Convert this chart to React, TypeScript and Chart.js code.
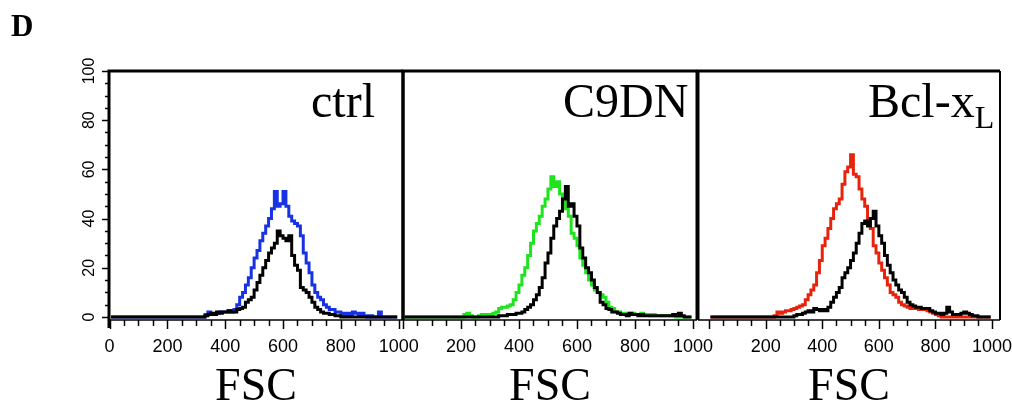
import React, { useEffect, useRef } from 'react';
import { Chart, registerables } from 'chart.js';

Chart.register(...registerables);

// ---- data: FSC histograms, bins of 10 channels (0..1000) ----
const BIN_WIDTH = 10;

// panel "ctrl"
const ctrlBlue = [
  0, 0, 0, 0, 0, 0, 0, 0, 0, 0,
  0, 0, 0, 0, 0, 0, 0, 0, 0, 0,
  0, 0, 0, 0, 0, 0, 0, 0, 0, 0,
  0, 0, 0, 1, 2, 1, 1, 1.5, 2, 2,
  2, 2.5, 2, 3, 5, 8, 10, 13, 16, 20,
  24, 27, 31, 34, 37, 40, 44, 51, 45, 46,
  51, 45, 41, 39, 38, 37, 33, 26, 22, 18,
  13, 10, 8, 7, 5, 4, 3, 3, 2, 2,
  1.5, 1, 1.5, 1, 2, 1.5, 0.5, 1.5, 0.5, 0,
  0.5, 0, 0, 2, 0, 0, 0, 0, 0, 0,
];
const ctrlBlack = [
  0, 0, 0, 0, 0, 0, 0, 0, 0, 0,
  0, 0, 0, 0, 0, 0, 0, 0, 0, 0,
  0, 0, 0, 0, 0, 0, 0, 0, 0, 0,
  0, 0, 0, 0.5, 1, 1.5, 1, 2, 1.5, 2,
  2, 2.5, 2, 2, 3, 3.5, 4, 6, 7, 8,
  11, 14, 17, 20, 23, 26, 28, 30, 35, 33,
  32, 31, 33, 25, 21, 19, 12, 11, 10, 8,
  6, 4, 3, 2, 1.5, 1.5, 1, 1, 0.5, 0.5,
  0, 0, 0, 0, 0, 0, 0, 0, 0, 0,
  0, 0, 0, 0, 0, 0, 0, 0, 0, 0,
];

// panel "C9DN"
const c9dnGreen = [
  0, 0, 0, 0, 0, 0, 0, 0, 0, 0,
  0, 0, 0, 0, 0, 0, 0, 0, 0, 0,
  0, 1, 1.5, 0.5, 0, 0, 0.5, 1, 1, 1,
  1, 1.5, 2, 3.5, 4, 4, 4.5, 5, 7, 10,
  13, 17, 20, 25, 30, 35, 38, 41, 45, 48,
  52, 57, 53, 55, 50, 47, 44, 41, 34, 32,
  29, 24, 21, 18, 15, 13, 11, 10, 9, 8,
  6, 4, 3.5, 2, 2, 1.5, 1.5, 1.5, 1, 1.5,
  1, 1, 1.5, 1, 1, 0.5, 1, 0.5, 0.5, 0.5,
  0.5, 0.5, 0.5, 0.5, 0, 0, 0, 0, 0, 0,
];
const c9dnBlack = [
  0, 0, 0, 0, 0, 0, 0, 0, 0, 0,
  0, 0, 0, 0, 0, 0, 0, 0, 0, 0,
  0, 0, 0, 0, 0, 0, 0, 0, 0, 0,
  0, 0, 0, 0.5, 0.5, 0.5, 1, 1, 1, 1.5,
  1.5, 2, 3, 4, 5, 7, 9, 12, 16, 22,
  26, 32, 37, 40, 43, 48, 53, 45, 46, 41,
  37, 28, 24, 20, 18, 15, 12, 10, 6, 5,
  3.5, 3, 2, 2, 1.5, 1, 1, 0.5, 1.5, 1,
  1, 0.5, 1, 0.5, 0.5, 0.5, 0.5, 0.5, 0.5, 0.5,
  0.5, 0.5, 0.5, 1, 0.5, 1.5, 0.5, 0, 0, 0,
];

// panel "Bcl-xL"
const bclRed = [
  0, 0, 0, 0, 0, 0, 0, 0, 0, 0,
  0, 0, 0, 0, 0, 0, 0, 0, 0, 0,
  0, 0, 0, 0.5, 2, 1.5, 2, 2.5, 2.5, 3,
  3.5, 4, 4.5, 5, 7, 9, 11, 13, 18, 23,
  29, 32, 36, 40, 44, 46, 48, 54, 59, 61,
  66, 58, 57, 52, 48, 45, 40, 36, 29, 26,
  22, 19, 16, 13, 10, 9, 8, 6, 5, 4.5,
  4, 3.5, 3.5, 3.5, 3, 3, 3, 2.5, 2, 1.5,
  1, 0.5, 0, 0, 0, 0, 0, 0, 0, 0,
  0, 0, 0, 0, 0, 0, 0, 0, 0, 0,
];
const bclBlack = [
  0, 0, 0, 0, 0, 0, 0, 0, 0, 0,
  0, 0, 0, 0, 0, 0, 0, 0, 0, 0,
  0, 0, 0, 0, 0, 0, 0, 0, 0, 0,
  0.5, 1, 1, 1.5, 2, 2.5, 2, 3.5, 3, 2.5,
  3, 2.5, 4, 6, 8, 10, 12, 16, 18, 20,
  23, 26, 30, 34, 38, 39, 37, 40, 43, 37,
  33, 30, 25, 21, 18, 15, 13, 11, 10, 8,
  6, 5, 4.5, 4, 4, 3.5, 3.5, 3.5, 2.5, 2,
  1.5, 1.5, 1, 1.5, 4, 2, 1, 1, 1, 1.5,
  2, 1.5, 1, 0.5, 0.5, 0, 0, 0, 0, 0,
];

const BIN_CENTERS = ctrlBlue.map((_, i) => i * BIN_WIDTH + BIN_WIDTH / 2);

const X_TICKS_FIRST = [0, 200, 400, 600, 800, 1000];
const X_TICKS_OTHER = [200, 400, 600, 800, 1000];
const Y_TICKS = [0, 20, 40, 60, 80, 100];
const X_TITLE = 'FSC';

const PANEL_NAMES = ['ctrl', 'C9DN', 'Bcl-x'];

// ---- layout / style ----
const CANVAS_W = 1100;
const CANVAS_H = 411;

const panels = [
  {
    label: PANEL_NAMES[0], sub: '', labelX: 311, labelY: 117,
    colored: ctrlBlue, black: ctrlBlack, color: '#1632e2',
    xMin: -2, xMax: 1015, xTicks: X_TICKS_FIRST,
    padLeft: 79, areaRight: 403, yAxis: true, tag: 'D', rightWidth: 3,
  },
  {
    label: PANEL_NAMES[1], sub: '', labelX: 563, labelY: 117,
    colored: c9dnGreen, black: c9dnBlack, color: '#1ee41e',
    xMin: 0, xMax: 1014, xTicks: X_TICKS_OTHER,
    padLeft: 403, areaRight: 697, yAxis: false, tag: '', rightWidth: 3,
  },
  {
    label: PANEL_NAMES[2], sub: 'L', labelX: 868, labelY: 117,
    colored: bclRed, black: bclBlack, color: '#e8230c',
    xMin: -39, xMax: 1028, xTicks: X_TICKS_OTHER,
    padLeft: 698, areaRight: 1000, yAxis: false, tag: '', rightWidth: 2,
  },
];

const SERIF = '"Liberation Serif", "Times New Roman", serif';
const SANS = '"Liberation Sans", Arial, sans-serif';

const panelDeco = {
  id: 'panelDeco',
  afterDraw(chart: any, _args: any, opts: any) {
    const ctx = chart.ctx;
    const { left, right, top, bottom } = chart.chartArea;
    const xs = chart.scales.x;
    const ys = chart.scales.y;
    ctx.save();
    ctx.strokeStyle = '#000';
    ctx.fillStyle = '#000';
    // x axis line + ticks
    ctx.lineWidth = 1.5;
    ctx.beginPath();
    ctx.moveTo(left, bottom);
    ctx.lineTo(right, bottom);
    ctx.stroke();
    for (let v = 0; v <= 1000; v += 50) {
      const px = Math.round(xs.getPixelForValue(v)) + 0.5;
      const len = v % 200 === 0 ? 9 : 6;
      ctx.beginPath();
      ctx.moveTo(px, bottom);
      ctx.lineTo(px, bottom + len);
      ctx.stroke();
    }
    // frame
    ctx.lineWidth = 3;
    ctx.beginPath();
    ctx.moveTo(left, bottom + (opts.yAxis ? 8 : 0));
    ctx.lineTo(left, top);
    ctx.lineTo(right, top);
    ctx.stroke();
    ctx.lineWidth = opts.rightWidth;
    ctx.beginPath();
    ctx.moveTo(right, top);
    ctx.lineTo(right, bottom);
    ctx.stroke();
    // y ticks
    if (opts.yAxis) {
      ctx.lineWidth = 1.5;
      for (let v = 0; v <= 100; v += 5) {
        const py = Math.round(ys.getPixelForValue(v)) + 0.5;
        const len = v % 20 === 0 ? 7 : 4;
        ctx.beginPath();
        ctx.moveTo(left, py);
        ctx.lineTo(left - len, py);
        ctx.stroke();
      }
    }
    // panel label
    ctx.textAlign = 'left';
    ctx.textBaseline = 'alphabetic';
    ctx.font = `48px ${SERIF}`;
    ctx.fillText(opts.label, opts.labelX, opts.labelY);
    if (opts.sub) {
      const w = ctx.measureText(opts.label).width;
      ctx.font = `32px ${SERIF}`;
      ctx.fillText(opts.sub, opts.labelX + w, opts.labelY + 11);
    }
    if (opts.tag) {
      ctx.font = `bold 31px ${SERIF}`;
      ctx.fillText(opts.tag, 11, 36);
    }
    ctx.restore();
  },
};

function toPoints(vals: number[]) {
  return vals.map((y, i) => ({ x: BIN_CENTERS[i], y }));
}

function makeConfig(p: any): any {
  return {
    type: 'line',
    data: {
      datasets: [
        {
          label: 'control',
          data: toPoints(p.black),
          borderColor: '#000',
          borderWidth: 3,
          pointRadius: 0,
          stepped: 'middle',
          fill: false,
        },
        {
          label: p.label + (p.sub || ''),
          data: toPoints(p.colored),
          borderColor: p.color,
          borderWidth: 3,
          pointRadius: 0,
          stepped: 'middle',
          fill: false,
        },
      ],
    },
    options: {
      responsive: false,
      animation: false,
      events: [],
      layout: {
        padding: { left: p.padLeft, right: CANVAS_W - p.areaRight, top: 71, bottom: 0 },
      },
      plugins: {
        legend: { display: false },
        tooltip: { enabled: false },
        panelDeco: {
          label: p.label, sub: p.sub, labelX: p.labelX, labelY: p.labelY,
          yAxis: p.yAxis, tag: p.tag, rightWidth: p.rightWidth,
        },
      },
      scales: {
        x: {
          type: 'linear',
          min: p.xMin,
          max: p.xMax,
          grid: { display: false, drawTicks: false },
          border: { display: false },
          afterBuildTicks: (s: any) => { s.ticks = p.xTicks.map((v: number) => ({ value: v })); },
          afterFit: (s: any) => { s.height = 91; },
          ticks: {
            autoSkip: false,
            minRotation: 0,
            maxRotation: 0,
            padding: 16,
            color: '#000',
            font: { family: SANS, size: 18, lineHeight: 1.2 },
            callback: (v: any) => String(v),
          },
          title: {
            display: true,
            text: X_TITLE,
            color: '#000',
            font: { family: SERIF, size: 46, lineHeight: 1 },
            padding: { top: 0, bottom: 0 },
          },
        },
        y: {
          type: 'linear',
          display: p.yAxis,
          min: -1.22,
          max: 100,
          grid: { display: false, drawTicks: false },
          border: { display: false },
          afterBuildTicks: (s: any) => { s.ticks = Y_TICKS.map((v) => ({ value: v })); },
          afterFit: (s: any) => { if (p.yAxis) s.width = 30; },
          ticks: {
            autoSkip: false,
            minRotation: 90,
            maxRotation: 90,
            crossAlign: 'center',
            padding: 6,
            color: '#000',
            font: { family: SANS, size: 16 },
            callback: (v: any) => String(v),
          },
        },
      },
    },
    plugins: [panelDeco],
  };
}

export default function App() {
  const c1 = useRef<HTMLCanvasElement>(null);
  const c2 = useRef<HTMLCanvasElement>(null);
  const c3 = useRef<HTMLCanvasElement>(null);

  useEffect(() => {
    const refs = [c1, c2, c3];
    const charts = panels.map((p, i) => new Chart(refs[i].current as HTMLCanvasElement, makeConfig(p)));
    return () => charts.forEach((c) => c.destroy());
  }, []);

  const canvasStyle: React.CSSProperties = { position: 'absolute', left: 0, top: 0 };
  return (
    <div
      style={{
        position: 'absolute', left: 0, top: 0, width: 1012, height: 411,
        overflow: 'hidden', background: '#fff',
      }}
    >
      <canvas ref={c1} width={CANVAS_W} height={CANVAS_H} style={canvasStyle} />
      <canvas ref={c2} width={CANVAS_W} height={CANVAS_H} style={canvasStyle} />
      <canvas ref={c3} width={CANVAS_W} height={CANVAS_H} style={canvasStyle} />
    </div>
  );
}
